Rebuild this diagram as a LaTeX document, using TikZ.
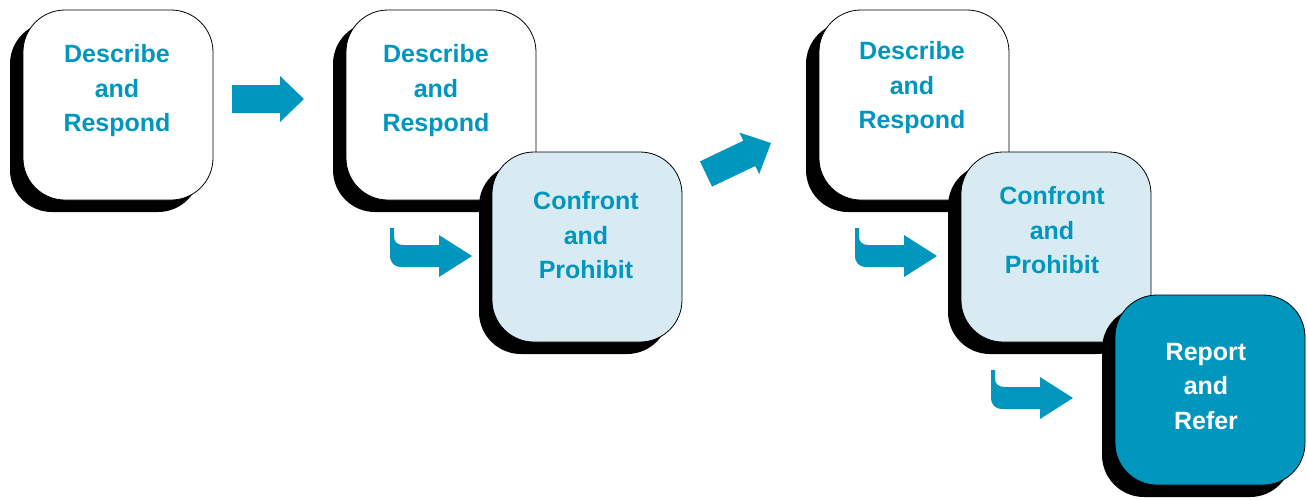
\documentclass[tikz,border=0pt]{standalone}
\usepackage{fontspec}
\setmainfont{Liberation Sans}
\usetikzlibrary{positioning,shadows}

\definecolor{tealblue}{RGB}{0,150,190}
\definecolor{paleblue}{RGB}{216,234,242}

\tikzset{
    stepcard/.style={draw=black, line width=0.8pt, rounded corners=42pt,
        minimum width=190pt, minimum height=190pt, inner sep=0pt,
        drop shadow={shadow xshift=-13pt, shadow yshift=-12pt, opacity=1, fill=black}},
    cardtext/.style={align=center, inner sep=0pt, text=tealblue,
        font=\fontsize{25}{34.5}\selectfont\bfseries},
    flatarrow/.pic={
        \fill[tealblue] (0,-14) -- (48,-14) -- (48,-23) -- (72,0) -- (48,23)
            -- (48,14) -- (0,14) -- cycle;
    },
    hookarrow/.pic={
        \fill[tealblue] (-82,-28) -- (-82,-1) .. controls (-82,7) and (-78,11) .. (-70,11)
            -- (-33,11) -- (-33,21) -- (0,0) -- (-33,-21) -- (-33,-11) -- (-68,-11)
            .. controls (-75,-11) and (-78,-14) .. (-78,-20) -- (-78,-28) -- cycle;
    }
}

\begin{document}
\begin{tikzpicture}[x=1pt,y=-1pt]
    \useasboundingbox (0,0) rectangle (1307,499);
    %boxes
    \node[stepcard, fill=white] (b1) at (118,105) {};
    \node[stepcard, fill=white] (b2) at (441,105) {};
    \node[stepcard, fill=paleblue] (b3) at (587,247) {};
    \node[stepcard, fill=white] (b4) at (914,105) {};
    \node[stepcard, fill=paleblue] (b5) at (1056,247) {};
    \node[stepcard, fill=tealblue] (b6) at (1210,390) {};
    %arrows
    \pic at (232,99) {flatarrow};
    \pic[rotate=25.5] at (706,174) {flatarrow};
    \pic at (472,256) {hookarrow};
    \pic at (937,256) {hookarrow};
    \pic at (1073,398) {hookarrow};
    %labels
    \node[cardtext, below=35pt of b1.north, xshift=-1pt] (t1) {Describe\\and\\Respond};
    \node[cardtext, below=35pt of b2.north, xshift=-5pt] (t2) {Describe\\and\\Respond};
    \node[cardtext, below=40pt of b3.north, xshift=-1pt] (t3) {Confront\\and\\Prohibit};
    \node[cardtext, below=32pt of b4.north, xshift=-2pt] (t4) {Describe\\and\\Respond};
    \node[cardtext, below=35pt of b5.north, xshift=-4pt] (t5) {Confront\\and\\Prohibit};
    \node[cardtext, below=48pt of b6.north, xshift=-4pt, text=white] (t6) {Report\\and\\Refer};
\end{tikzpicture}
\end{document}
